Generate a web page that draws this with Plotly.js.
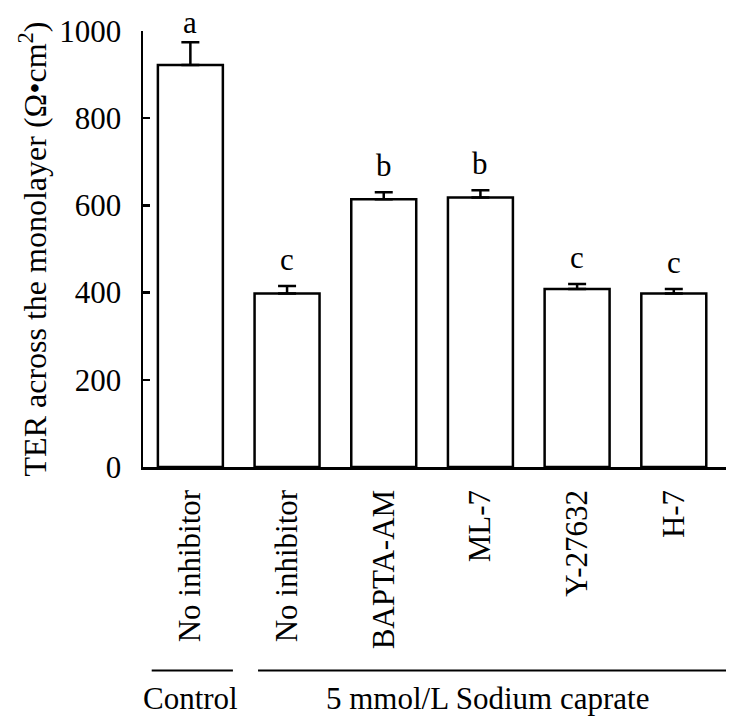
<!DOCTYPE html>
<html>
<head>
<meta charset="utf-8">
<script src="https://cdn.plot.ly/plotly-3.0.1.min.js"></script>
<style>
  html, body { margin: 0; padding: 0; background: #ffffff; }
  #chart { width: 735px; height: 719px; }
</style>
</head>
<body>
<div id="chart"></div>
<script>
// ---- data ----
const categories = ['No inhibitor', 'No inhibitor', 'BAPTA-AM', 'ML-7', 'Y-27632', 'H-7'];
const terMeans   = [922, 398, 614, 618, 408, 398];
const terErrors  = [52, 17, 16, 17, 12, 10];
const sigLetters = ['a', 'c', 'b', 'b', 'c', 'c'];
const groupNames = ['Control', '5 mmol/L Sodium caprate'];
const yTicks     = [0, 200, 400, 600, 800, 1000];

const FONT = '"Liberation Serif", "Times New Roman", Times, serif';
const FS = 31;
const xPos = categories.map((_, i) => i);

const trace = {
  type: 'bar',
  x: xPos,
  y: terMeans,
  width: 0.672,
  marker: { color: '#ffffff', line: { color: '#000000', width: 2.5 } },
  error_y: {
    type: 'data',
    symmetric: false,
    array: terErrors,
    arrayminus: terErrors.map(() => 0),
    color: '#000000',
    thickness: 2.5,
    width: 9
  },
  hoverinfo: 'skip',
  showlegend: false
};

// letters sit above the error caps; the top one is kept inside the figure
const LETTER_Y_LIMIT = 958;
const annotations = sigLetters.map((t, i) => ({
  x: xPos[i],
  y: Math.min(terMeans[i] + terErrors[i], LETTER_Y_LIMIT),
  xref: 'x', yref: 'y',
  text: t,
  showarrow: false,
  yanchor: 'bottom',
  yshift: 7,
  font: { family: FONT, size: FS, color: '#000000' }
}));

// group labels below the axis
annotations.push({
  x: 0, y: -0.531, xref: 'x', yref: 'paper',
  text: groupNames[0], showarrow: false, yanchor: 'middle',
  font: { family: FONT, size: FS, color: '#000000' }
});
annotations.push({
  x: 3.07, y: -0.531, xref: 'x', yref: 'paper',
  text: groupNames[1], showarrow: false, yanchor: 'middle',
  font: { family: FONT, size: FS, color: '#000000' }
});

const shapes = [
  { type: 'line', xref: 'x', yref: 'paper', x0: -0.40, x1: 0.44, y0: -0.4666, y1: -0.4666,
    line: { color: '#000000', width: 2 } },
  { type: 'line', xref: 'x', yref: 'paper', x0: 0.70, x1: 5.63, y0: -0.4666, y1: -0.4666,
    line: { color: '#000000', width: 2 } }
];

const layout = {
  width: 735,
  height: 719,
  margin: { l: 143, r: 9, t: 31, b: 252, pad: 0 },
  paper_bgcolor: '#ffffff',
  plot_bgcolor: '#ffffff',
  font: { family: FONT, size: FS, color: '#000000' },
  bargap: 0.33,
  xaxis: {
    range: [-0.49, 5.54],
    tickvals: xPos,
    ticktext: categories,
    tickangle: -90,
    ticks: '',
    showline: true,
    linecolor: '#000000',
    linewidth: 2.5,
    showgrid: false,
    zeroline: false,
    ticklabelstandoff: 8,
    tickfont: { family: FONT, size: FS, color: '#000000' },
    fixedrange: true
  },
  yaxis: {
    range: [0, 1000],
    tickvals: yTicks,
    ticks: 'inside',
    ticklen: 7,
    tickwidth: 2.5,
    tickcolor: '#000000',
    showline: true,
    linecolor: '#000000',
    linewidth: 2.5,
    showgrid: false,
    zeroline: false,
    ticklabelstandoff: 13,
    tickfont: { family: FONT, size: FS, color: '#000000' },
    title: {
      text: 'TER across the monolayer (Ω•cm<sup>2</sup>)',
      font: { family: FONT, size: 32, color: '#000000' },
      standoff: 3
    },
    fixedrange: true
  },
  annotations: annotations,
  shapes: shapes
};

Plotly.newPlot('chart', [trace], layout, { displayModeBar: false, staticPlot: true });
</script>
</body>
</html>
